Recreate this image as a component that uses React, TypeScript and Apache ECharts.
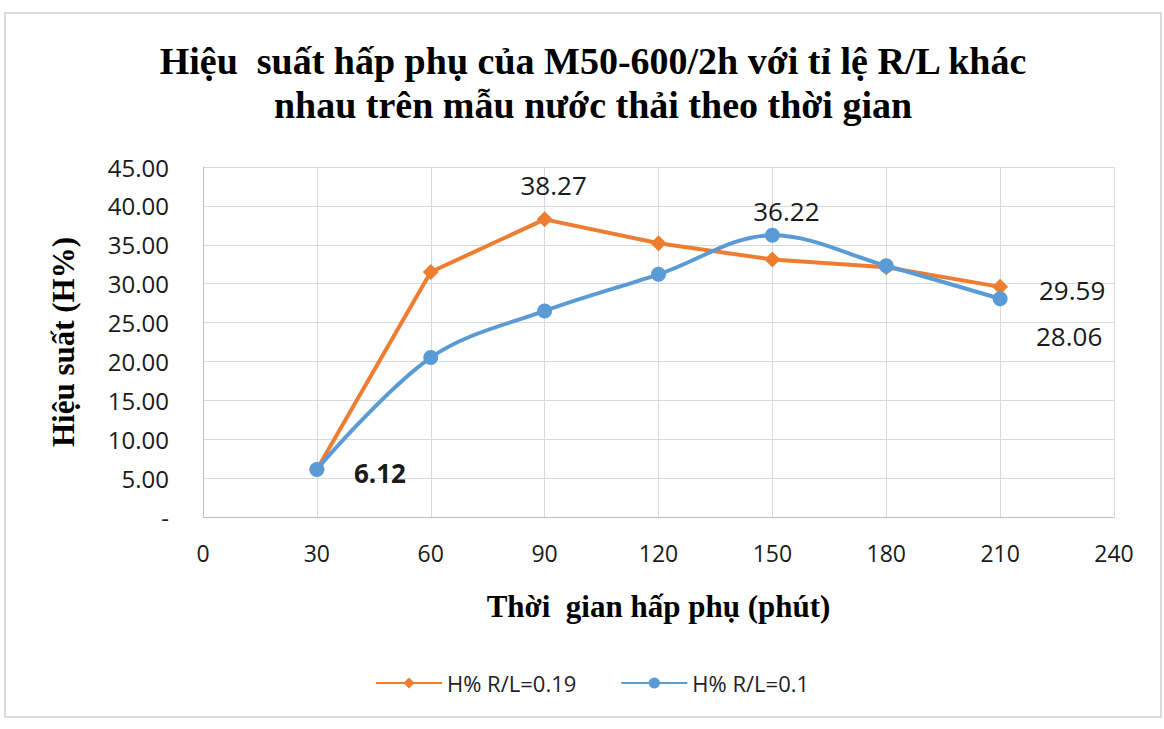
import React, { useEffect, useRef } from "react";
import * as echarts from "echarts";

const times = [30, 60, 90, 120, 150, 180, 210];
const seriesNames = ["H% R/L=0.19", "H% R/L=0.1"];
const valuesRL019 = [6.12, 31.5, 38.27, 35.2, 33.1, 32.1, 29.59];
const valuesRL01 = [6.12, 20.5, 26.5, 31.2, 36.22, 32.3, 28.06];
const titleText = "Hiệu  suất hấp phụ của M50-600/2h với tỉ lệ R/L khác\nnhau trên mẫu nước thải theo thời gian";
const xAxisName = "Thời  gian hấp phụ (phút)";
const yAxisName = "Hiệu suất (H%)";

// which points carry a value label, with their offset from the point
const labelsRL019: Record<number, { offset: number[]; bold?: boolean }> = {
  2: { offset: [9, -34] },
  6: { offset: [72, 3] },
};
const labelsRL01: Record<number, { offset: number[]; bold?: boolean }> = {
  0: { offset: [63, 4], bold: true },
  4: { offset: [14, -24] },
  6: { offset: [69, 37] },
};

const labelFont = "'Open Sans', 'Liberation Sans', sans-serif";
const serifFont = "'Liberation Serif', 'DejaVu Serif', serif";

function buildData(values: number[], labels: Record<number, { offset: number[]; bold?: boolean }>) {
  return values.map((v, i) => {
    const l = labels[i];
    return {
      value: [times[i], v],
      label: l
        ? {
            show: true,
            position: "inside",
            align: "center",
            verticalAlign: "middle",
            offset: l.offset,
            formatter: v.toFixed(2),
            fontSize: 26,
            fontWeight: l.bold ? "bold" : "normal",
            color: "#1a1a1a",
            fontFamily: labelFont,
          }
        : { show: false },
    };
  });
}

export default function App() {
  const ref = useRef<HTMLDivElement>(null);
  useEffect(() => {
    if (!ref.current) return;
    const chart = echarts.init(ref.current, undefined, { renderer: "svg" });
    chart.setOption({
      animation: false,
      backgroundColor: "#ffffff",
      graphic: [
        {
          type: "rect",
          shape: { x: 5, y: 13, width: 1156, height: 704 },
          style: { fill: "none", stroke: "#cfcfcf", lineWidth: 1.5 },
          silent: true,
        },
      ],
      title: {
        text: titleText,
        left: 588,
        textAlign: "center",
        top: 34,
        textStyle: {
          fontFamily: serifFont,
          fontWeight: "bold",
          fontSize: 38,
          lineHeight: 44,
          color: "#000",
        },
      },
      legend: {
        bottom: 30,
        left: 370,
        itemWidth: 66,
        itemHeight: 14,
        itemGap: 44,
        textStyle: { fontSize: 22, color: "#222", fontFamily: labelFont },
        data: seriesNames,
      },
      grid: { left: 203, right: 50, top: 167, bottom: 212 },
      xAxis: {
        type: "value",
        min: 0,
        max: 240,
        interval: 30,
        name: xAxisName,
        nameLocation: "middle",
        nameGap: 74,
        nameTextStyle: { fontFamily: serifFont, fontWeight: "bold", fontSize: 31, color: "#000" },
        axisLine: { show: true, lineStyle: { color: "#bfbfbf" } },
        axisTick: { show: false },
        axisLabel: { fontSize: 23, color: "#1a1a1a", fontFamily: labelFont, margin: 24 },
        splitLine: { show: true, lineStyle: { color: "#d9d9d9" } },
      },
      yAxis: {
        type: "value",
        min: 0,
        max: 45,
        interval: 5,
        name: yAxisName,
        nameLocation: "middle",
        nameGap: 124,
        nameRotate: 90,
        nameTextStyle: { fontFamily: serifFont, fontWeight: "bold", fontSize: 31, color: "#000" },
        axisLine: { show: true, lineStyle: { color: "#bfbfbf" } },
        axisTick: { show: false },
        axisLabel: {
          fontSize: 24,
          color: "#1a1a1a",
          fontFamily: labelFont,
          margin: 34,
          formatter: (v: number) => (v === 0 ? "-" : v.toFixed(2)),
        },
        splitLine: { show: true, lineStyle: { color: "#d9d9d9" } },
      },
      series: [
        {
          name: seriesNames[0],
          type: "line",
          data: buildData(valuesRL019, labelsRL019),
          symbol: "diamond",
          symbolSize: 16,
          itemStyle: { color: "#ED7D31" },
          lineStyle: { color: "#ED7D31", width: 4 },
          z: 2,
        },
        {
          name: seriesNames[1],
          type: "line",
          smooth: 0.35,
          data: buildData(valuesRL01, labelsRL01),
          symbol: "circle",
          symbolSize: 15,
          itemStyle: { color: "#5B9BD5" },
          lineStyle: { color: "#5B9BD5", width: 4 },
          z: 3,
        },
      ],
    });
    return () => chart.dispose();
  }, []);
  return (
    <div
      ref={ref}
      style={{ position: "fixed", left: 0, top: 0, width: 1164, height: 729 }}
    />
  );
}
